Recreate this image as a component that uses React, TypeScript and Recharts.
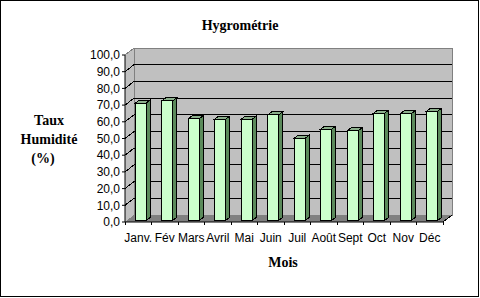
import { BarChart, Bar, XAxis, YAxis, ReferenceArea, ReferenceLine } from "recharts";

const months = ["Janv.", "Fév", "Mars", "Avril", "Mai", "Juin", "Juil", "Août", "Sept", "Oct", "Nov", "Déc"];
const humidity = [70.2, 71.6, 60.8, 60.6, 60.6, 63.2, 49.2, 54.6, 53.6, 64.2, 63.8, 65.4];
const yTicks = [0, 10, 20, 30, 40, 50, 60, 70, 80, 90, 100];

const data = months.map((m, i) => ({ mois: m, taux: humidity[i] }));

// 3D depth of the walls, and of the columns
const DX = 9;
const DY = 7;
const BX = 4;
const BY = 3;

const sans = "'Liberation Sans', Arial, sans-serif";
const serif = "'Liberation Serif', 'Times New Roman', serif";

const Walls = (props: any) => {
  const { x, y, width, height } = props;
  const b = y + height;
  const r = x + width;
  return (
    <g shapeRendering="crispEdges">
      <polygon points={`${x},${y} ${x + DX},${y - DY} ${x + DX},${b - DY} ${x},${b}`} fill="#c0c0c0" />
      <rect x={x + DX} y={y - DY} width={width} height={height} fill="#c0c0c0" stroke="#808080" />
      <polygon points={`${x},${b} ${r},${b} ${r + DX},${b - DY} ${x + DX},${b - DY}`} fill="#808080" />
      <line x1={x} y1={y} x2={x + DX} y2={y - DY} stroke="#808080" />
      <line x1={r} y1={b} x2={r + DX} y2={b - DY} stroke="#000" />
    </g>
  );
};

const GridLine = (props: any) => {
  const { x1, y1, x2, y2 } = props;
  return (
    <g shapeRendering="crispEdges">
      <line x1={x1} y1={y1} x2={x1 + DX} y2={y1 - DY} stroke="#000" />
      <line x1={x1 + DX} y1={y1 - DY} x2={x2 + DX} y2={y2 - DY} stroke="#000" />
    </g>
  );
};

const Column = (props: any) => {
  const { x, y, width, height } = props;
  const fx = x + 2;
  const fy = y - 1.5;
  const r = fx + width;
  const b = fy + height;
  return (
    <g shapeRendering="crispEdges">
      <polygon points={`${r},${fy} ${r + BX},${fy - BY} ${r + BX},${b - BY} ${r},${b}`} fill="#5b8a5b" stroke="#000" />
      <polygon points={`${fx},${fy} ${fx + BX},${fy - BY} ${r + BX},${fy - BY} ${r},${fy}`} fill="#8cb08c" stroke="#000" />
      <rect x={fx} y={fy} width={width} height={height} fill="#ccffcc" stroke="#000" />
    </g>
  );
};

const XTick = (props: any) => {
  const { x, y, payload, index } = props;
  const half = payload && payload.offset != null ? payload.offset : 13.25;
  const ay = y - 11;
  return (
    <g>
      <line x1={x + half} y1={ay} x2={x + half} y2={ay + 3} stroke="#000" shapeRendering="crispEdges" />
      {index === 0 && <line x1={x - half} y1={ay} x2={x - half} y2={ay + 3} stroke="#000" shapeRendering="crispEdges" />}
      <text x={x} y={y} dy="0.71em" textAnchor="middle" fill="#000" fontSize={12} fontFamily={sans}>
        {payload.value}
      </text>
    </g>
  );
};

export default function App() {
  return (
    <div style={{ position: "absolute", left: 0, top: 0, width: 480, height: 298, background: "#fff" }}>
      <BarChart width={480} height={298} data={data} margin={{ top: 55, right: 37, bottom: 46, left: 65 }}>
        <ReferenceArea y1={0} y2={100} shape={Walls} zIndex={-90} />
        {yTicks
          .filter((t) => t > 0 && t < 100)
          .map((t) => (
            <ReferenceLine key={t} y={t} shape={GridLine} zIndex={-80} />
          ))}
        <XAxis
          dataKey="mois"
          height={30}
          interval={0}
          tickLine={false}
          tickSize={3}
          tickMargin={8}
          tick={XTick}
          axisLine={{ stroke: "#000" }}
        />
        <YAxis
          domain={[0, 100]}
          ticks={yTicks}
          interval={0}
          width={60}
          tickSize={3}
          tickMargin={2}
          tickFormatter={(v: number) => v.toFixed(1).replace(".", ",")}
          tick={{ fill: "#000", fontSize: 12, fontFamily: sans }}
          tickLine={{ stroke: "#000" }}
          axisLine={{ stroke: "#000" }}
        />
        <Bar dataKey="taux" barSize={11} shape={Column} isAnimationActive={false} />
      </BarChart>
      <svg width={480} height={298} style={{ position: "absolute", left: 0, top: 0, pointerEvents: "none" }}>
        <rect x={0.5} y={0.5} width={478} height={296} fill="none" stroke="#000" shapeRendering="crispEdges" />
        <g fontFamily={serif} fontWeight="bold" fontSize={14} fill="#000" textAnchor="middle">
          <text x={240} y={30}>Hygrométrie</text>
          <text x={49} y={125}>Taux</text>
          <text x={49} y={144}>Humidité</text>
          <text x={43} y={163}>(%)</text>
          <text x={283} y={267}>Mois</text>
        </g>
      </svg>
    </div>
  );
}
